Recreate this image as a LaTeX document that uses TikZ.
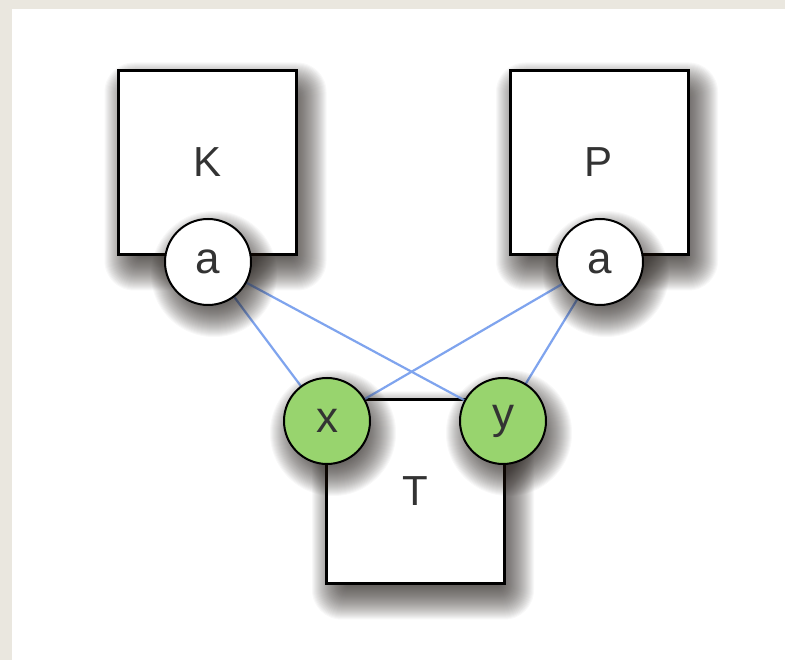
\documentclass[tikz,border=0pt]{standalone}
\usepackage{fontspec}
\setmainfont{Liberation Sans}
\definecolor{frame}{HTML}{EAE7DF}
\definecolor{portgreen}{HTML}{98D46E}
\definecolor{linkblue}{HTML}{7FA4EE}
\definecolor{txt}{HTML}{333333}
\definecolor{shade}{HTML}{2A2420}
\tikzset{
  shadowlayer/.style={fill=shade,fill opacity=0.032},
  box/.style={draw=black,line width=3pt,fill=white,minimum width=178pt,minimum height=184pt,inner sep=0pt,text=txt,font=\fontsize{42}{48}\selectfont},
  port/.style={circle,draw=black,line width=2pt,fill=white,minimum size=86pt,inner sep=0pt,text=txt,font=\fontsize{44}{50}\selectfont},
  gport/.style={port,fill=portgreen},
  link/.style={draw=linkblue,line width=2.2pt}
}
% soft rectangular shadow: centre x, centre y, half width, half height
\newcommand\rectshade[4]{%
  \foreach \k in {-14,...,22}{%
    \pgfmathsetmacro\rr{0.8*(\k+15)}%
    \fill[shadowlayer,rounded corners=\rr pt]
      ({#1+8-#3-\k},{#2-14-#4-\k}) rectangle ({#1+8+#3+\k},{#2-14+#4+\k});
  }}
% soft round shadow: centre x, centre y, radius
\newcommand\roundshade[3]{%
  \foreach \k in {-14,...,20}{%
    \fill[shadowlayer] ({#1+6},{#2-12}) circle ({#3+\k});
  }}
\begin{document}
\begin{tikzpicture}[x=1pt,y=1pt]
\useasboundingbox (0,0) rectangle (785,660);
\fill[frame] (0,0) rectangle (785,660);
\fill[white] (12,0) rectangle (785,651);
\rectshade{207.5}{497.5}{89}{92}
\rectshade{599}{497.5}{89}{92}
\rectshade{415}{168.5}{89}{92}
\node[box] (K) at (207.5,497.5) {K};
\node[box] (P) at (599,497.5) {P};
\node[box] (T) at (415,168.5) {T};
\coordinate (ka) at (208,398);
\coordinate (pa) at (600,398);
\coordinate (tx) at (327,239);
\coordinate (ty) at (503,239);
\draw[link] (ka) -- (tx);
\draw[link] (ka) -- (ty);
\draw[link] (pa) -- (tx);
\draw[link] (pa) -- (ty);
\roundshade{208}{398}{43}
\roundshade{600}{398}{43}
\roundshade{327}{239}{43}
\roundshade{503}{239}{43}
\node[port] (a1) at (ka) {a};
\node[port] (a2) at (pa) {a};
\node[gport] (x) at (tx) {x};
\node[gport] (y) at (ty) {y};
\end{tikzpicture}
\end{document}
